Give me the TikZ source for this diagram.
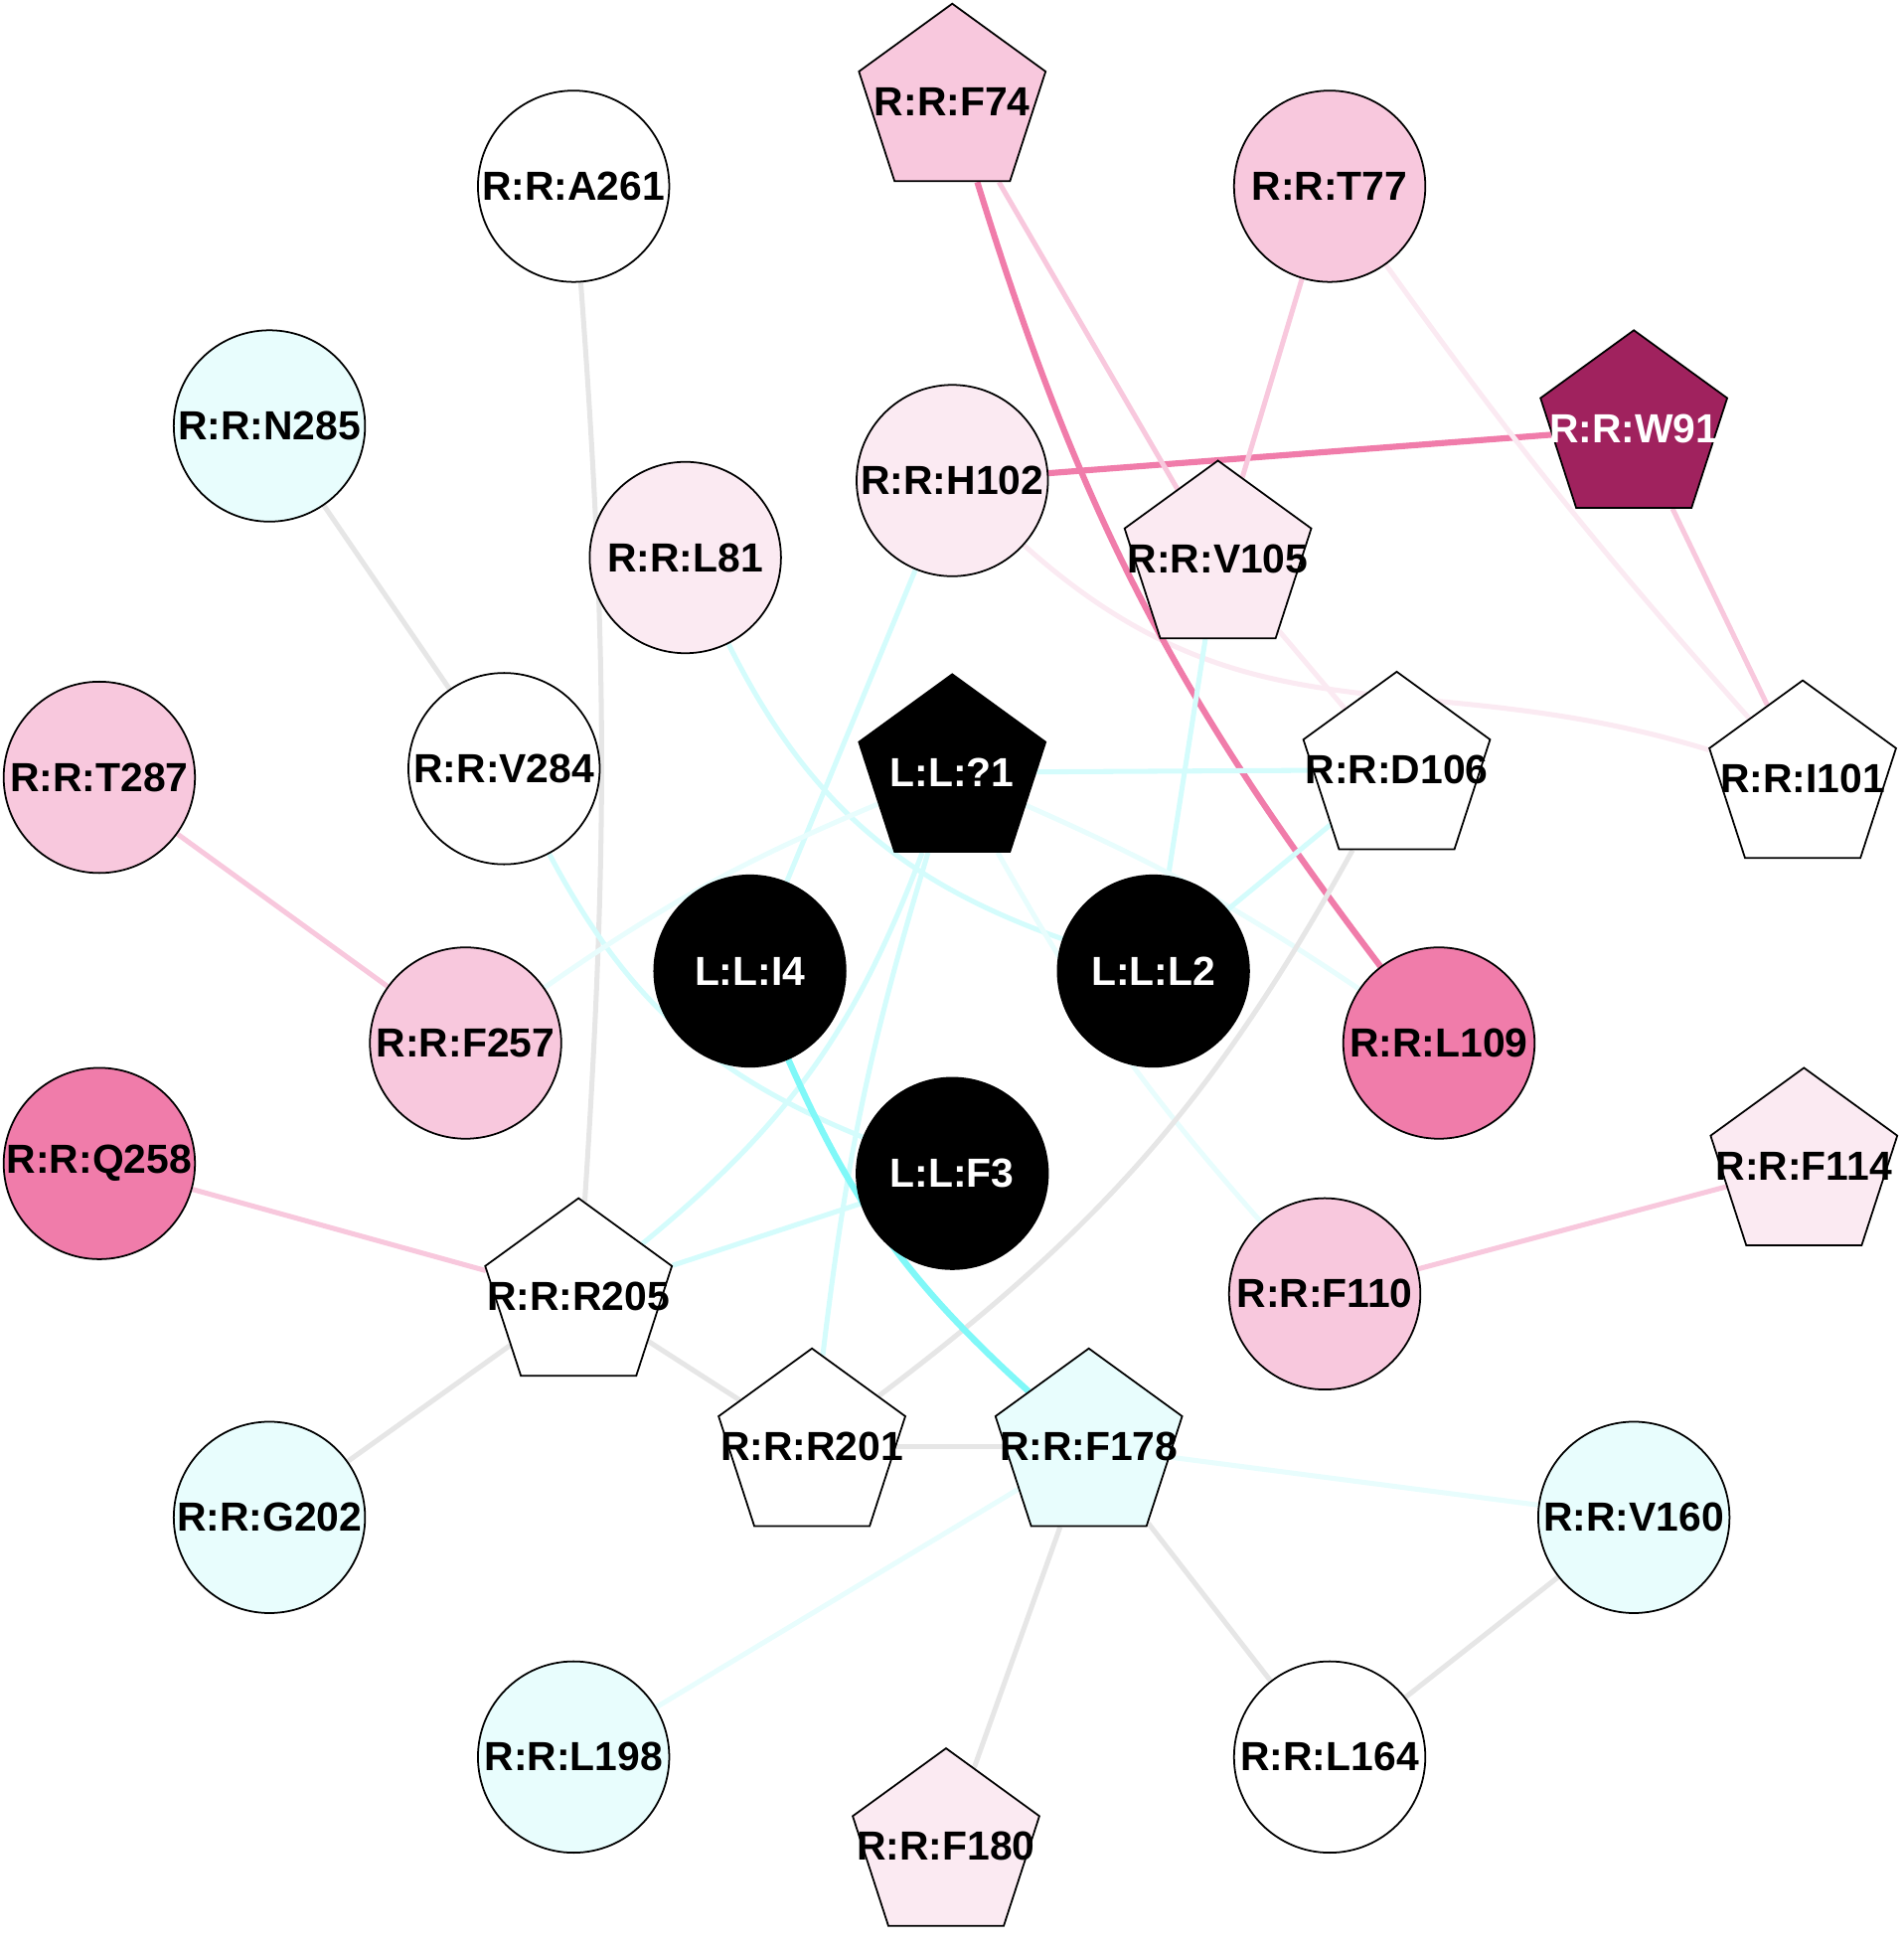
\documentclass[tikz,border=0pt]{standalone}
\usepackage{fontspec}
\setmainfont{Liberation Sans}
\usetikzlibrary{shapes.geometric,backgrounds}
\definecolor{pinkA}{HTML}{F8C8DD}
\definecolor{pinkL}{HTML}{FBEAF2}
\definecolor{pinkD}{HTML}{F07CAA}
\definecolor{wine}{HTML}{A0225E}
\definecolor{cyanL}{HTML}{E8FDFD}
\definecolor{edgegray}{HTML}{E6E6E6}
\definecolor{edgecyan}{HTML}{D4FCFC}
\definecolor{edgecyanF}{HTML}{E8FDFD}
\definecolor{edgecyanD}{HTML}{80F8F8}

\begin{document}
\begin{tikzpicture}[x=0.01cm,y=0.01cm,
            every node/.style={inner sep=0pt,font=\bfseries\fontsize{9.3}{11}\selectfont},
            res/.style={circle,draw,line width=0.4pt,minimum size=1.54cm},
            pent/.style={regular polygon,regular polygon sides=5,draw,line width=0.4pt,minimum size=1.58cm},
            txt/.style={label={center:#1}},
            txtw/.style={label={[text=white]center:#1}},
            gr/.style={line width=1.15pt,edgegray},
            cy/.style={line width=1.15pt,edgecyan},
            cyf/.style={line width=1.15pt,edgecyanF},
            cyd/.style={line width=1.45pt,edgecyanD},
            pk/.style={line width=1.15pt,pinkA},
            pkf/.style={line width=1.15pt,pinkL},
            pkd/.style={line width=1.4pt,pinkD}]
            \useasboundingbox(0,0)rectangle(1533,-1568);
            % residues and ligand atoms
            \node[pent,fill=pinkA,txt=R:R:F74](f74)at(767,-82){};
            \node[res,fill=white,txt=R:R:A261](a261)at(462,-150){};
            \node[res,fill=pinkA,txt=R:R:T77](t77)at(1071,-150){};
            \node[res,fill=cyanL,txt=R:R:N285](n285)at(217,-343){};
            \node[pent,fill=wine,txtw=R:R:W91](w91)at(1316,-345){};
            \node[res,fill=pinkL,txt=R:R:H102](h102)at(767,-387){};
            \node[res,fill=pinkL,txt=R:R:L81](l81)at(552,-449){};
            \node[pent,fill=pinkL,txt=R:R:V105](v105)at(981,-450){};
            \node[res,fill=pinkA,txt=R:R:T287](t287)at(80,-626){};
            \node[res,fill=white,txt=R:R:V284](v284)at(406,-619){};
            \node[pent,fill=black,txtw=L:L:?1](q1)at(767,-622){};
            \node[pent,fill=white,txt=R:R:D106](d106)at(1125,-620){};
            \node[pent,fill=white,txt=R:R:I101](i101)at(1452,-627){};
            \node[res,fill=black,txtw=L:L:I4](i4)at(604,-782){};
            \node[res,fill=black,txtw=L:L:L2](l2)at(929,-782){};
            \node[res,fill=pinkA,txt=R:R:F257](f257)at(375,-840){};
            \node[res,fill=pinkD,txt=R:R:L109](l109)at(1159,-840){};
            \node[res,fill=black,txtw=L:L:F3](f3)at(767,-945){};
            \node[res,fill=pinkD,txt=R:R:Q258](q258)at(80,-937){};
            \node[pent,fill=pinkL,txt=R:R:F114](f114)at(1453,-939){};
            \node[pent,fill=white,txt=R:R:R205](r205)at(466,-1044){};
            \node[res,fill=pinkA,txt=R:R:F110](f110)at(1067,-1042){};
            \node[pent,fill=white,txt=R:R:R201](r201)at(654,-1165){};
            \node[pent,fill=cyanL,txt=R:R:F178](f178)at(877,-1165){};
            \node[res,fill=cyanL,txt=R:R:G202](g202)at(217,-1222){};
            \node[res,fill=cyanL,txt=R:R:V160](v160)at(1316,-1222){};
            \node[res,fill=cyanL,txt=R:R:L198](l198)at(462,-1415){};
            \node[res,fill=white,txt=R:R:L164](l164)at(1071,-1415){};
            \node[pent,fill=pinkL,txt=R:R:F180](f180)at(762,-1487){};
            % contacts
            \begin{scope}[on background layer]
            \draw[gr](a261)to[bend left=4](r205);
            \draw[gr](n285)--(v284);
            \draw[cy](v284)to[bend right=20](f3);
            \draw[cy](l81)to[bend right=22](l2);
            \draw[cy](h102)--(i4);
            \draw[pkd](h102)--(w91);
            \draw[pkf](h102)to[out=-42,in=163,looseness=1.1](i101);
            \draw[pkd](f74)to[bend right=10](l109);
            \draw[pk](f74)--(v105);
            \draw[pk](t77)--(v105);
            \draw[pkf](t77)to[bend right=3](i101);
            \draw[pk](w91)--(i101);
            \draw[cy](v105)--(l2);
            \draw[pkf](v105)--(d106);
            \draw[cy](q1)--(d106);
            \draw[cyf](q1)to[bend right=6](f257);
            \draw[cy](q1)to[bend left=15](r205);
            \draw[cy](q1)to[bend right=5](r201);
            \draw[cyf](q1)to[bend right=6](f110);
            \draw[cyf](q1)to[bend left=5](l109);
            \draw[cy](d106)--(l2);
            \draw[gr](d106)to[bend left=12](r201);
            \draw[pk](t287)--(f257);
            \draw[pk](q258)--(r205);
            \draw[cy](r205)--(f3);
            \draw[gr](r205)--(r201);
            \draw[gr](r205)--(g202);
            \draw[cyd](i4)to[bend right=12](f178);
            \draw[gr](r201)--(f178);
            \draw[cyf](f178)--(v160);
            \draw[cyf](f178)--(l198);
            \draw[gr](f178)--(f180);
            \draw[gr](f178)--(l164);
            \draw[gr](l164)--(v160);
            \draw[pk](f110)--(f114);
            \end{scope}
        \end{tikzpicture}
\end{document}
